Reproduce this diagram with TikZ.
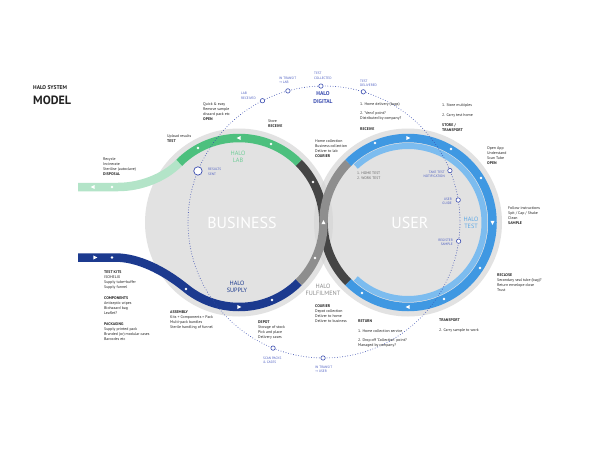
\documentclass[tikz,border=0pt]{standalone}
\usepackage{fontspec}
\setmainfont{PT Sans}
\newfontfamily\arrowfont{DejaVu Sans}
\usetikzlibrary{calc}
\definecolor{diskgray}{HTML}{E2E2E2}
\definecolor{lensgray}{HTML}{D9D9D9}
\definecolor{greenD}{HTML}{4DC07E}
\definecolor{greenL}{HTML}{B3E4C8}
\definecolor{navyb}{HTML}{1C3A8F}
\definecolor{darkg}{HTML}{454545}
\definecolor{midg}{HTML}{8E8E8E}
\definecolor{blueD}{HTML}{3F98E2}
\definecolor{blueL}{HTML}{7CBCEF}
\definecolor{dotblue}{HTML}{3A4CB0}
\definecolor{labelblue}{HTML}{4B5DC2}
\definecolor{txtc}{HTML}{222222}
\newcommand{\tria}[3]{\fill[white,shift={(#1,#2)},rotate=#3] (2.3,0)--(-1.7,2.1)--(-1.7,-2.1)--cycle;}
\begin{document}
\begin{tikzpicture}[x=1pt,y=-1pt,
  band/.style={line width=8.5pt},
  txt/.style={anchor=north west,inner sep=0pt,align=left,text=txtc,font=\fontsize{3.9}{5}\selectfont},
  lbl/.style={anchor=north west,inner sep=0pt,align=left,text=labelblue,font=\fontsize{3.4}{4.7}\selectfont},
  lblr/.style={lbl,anchor=north east,align=right},
  hlabel/.style={inner sep=0pt,align=center,font=\fontsize{6.2}{7}\selectfont},
  marker/.style={fill=white,draw=dotblue,line width=0.6pt},
  wdot/.style={fill=white}]
\useasboundingbox (0,0) rectangle (600,450);
\fill[white] (0,0) rectangle (600,450);
\coordinate (L) at (239,222.5);
\coordinate (R) at (408,222.5);
\coordinate (C) at (324,222);
% disks
\fill[diskgray] (L) circle[radius=94];
\fill[diskgray] (R) circle[radius=94];
\begin{scope}
\clip (L) circle[radius=94];
\fill[lensgray] (R) circle[radius=94];
\end{scope}
% bands
\draw[band,greenL] ($(L)+(-135:84.5)$) .. controls +(-15.5,15.5) and +(22,0) .. (118,187) -- (78,187);
\draw[band,navyb] (78,257.5) -- (115,257.5) .. controls (138,257.5) and (163,270) .. ($(L)+(130:84.5)$) arc[start angle=130,end angle=45,radius=84.5];
\draw[band,darkg] ($(L)+(-45:84.5)$) arc[start angle=-45,end angle=0,radius=84.5] arc[start angle=180,end angle=135,radius=84.5];
\draw[band,midg] ($(L)+(45:84.5)$) arc[start angle=45,end angle=0,radius=84.5] arc[start angle=180,end angle=225,radius=84.5];
\draw[band,blueD] ($(R)+(225:84.5)$) arc[start angle=225,end angle=495,radius=84.5];
\draw[line width=6pt,blueL] ($(R)+(227:76.5)$) arc[start angle=227,end angle=493,radius=76.5];
\draw[band,greenD] ($(L)+(-45:84.5)$) arc[start angle=-45,end angle=-135,radius=84.5];
% arrows
\tria{95}{257.5}{0}
\tria{239}{307}{0}
\tria{93}{187}{180}
\tria{239}{138}{180}
\tria{408}{138}{0}
\tria{492.5}{222.5}{-90}
\tria{408}{307}{180}
\tria{323.5}{222.5}{90}
% white dots
\foreach \p in {(112,257.5),(186,289),(272,300),(112,187),(198,148),(271,144),(313,182),(315,258),(375,143),(451,149),(481,178),(480,268),(444,299),(362,293)}
  \fill[wdot] \p circle[radius=1.3];
% digital dotted circle
\draw[dotblue,line width=0.9pt,line cap=round,dash pattern=on 0pt off 2.6pt] (C) circle[radius=136];
\foreach \a in {-116.9,-105.4,-91.3,-73.2,-22.2,-9.3,8.1,112,90.4}
  \filldraw[marker] ($(C)+(\a:136)$) circle[radius=2.2];
\filldraw[marker,line width=0.7pt] ($(C)+(-157.96:136)$) circle[radius=4.2];
% title
\node[anchor=west,inner sep=0pt,font=\bfseries\fontsize{5.5}{6}\selectfont,text=txtc] (t1) at (33,88) {HALO SYSTEM};
\node[anchor=west,inner sep=0pt,font=\bfseries\fontsize{12}{12}\selectfont,text=txtc] (t2) at (33,100) {MODEL};
% big words
\node[inner sep=0pt,font=\fontsize{16}{16}\selectfont,text=white] (bus) at (242,223) {BUSINESS};
\node[inner sep=0pt,font=\fontsize{16}{16}\selectfont,text=white] (usr) at (410,223) {USER};
% halo labels
\node[hlabel,font=\bfseries\fontsize{5.6}{7.6}\selectfont,text=dotblue] (hdig) at (323,97.5) {HALO\\DIGITAL};
\node[hlabel,text=greenD!80!white] (hlab) at (238,156.5) {HALO\\LAB};
\node[hlabel,text=navyb] (hsup) at (237,286.5) {HALO\\SUPPLY};
\node[hlabel,text=blueD!85!white] (htest) at (471,222.5) {HALO\\TEST};
\node[hlabel,text=black!45] (hful) at (323,289.5) {HALO\\FULFILMENT};
\node[txt,text=black!60,font=\fontsize{3.7}{5}\selectfont] (ht) at (357,171.5) {1. HOME TEST\\2. WORK TEST};
% text blocks
\node[txt] (disp) at (103,157.2) {Recycle\\Incinerate\\Sterilise (autoclave)\\\textbf{DISPOSAL}};
\node[txt] (test) at (167,134.2) {Upload results\\\textbf{TEST}};
\node[txt] (openL) at (203,102.5) {Quick \& easy\\Remove sample\\discard pack etc\\\textbf{OPEN}};
\node[txt] (recv) at (268,119.2) {Store\\\textbf{RECEIVE}};
\node[txt] (courT) at (315,139.2) {Home collection\\Business collection\\Deliver to lab\\\textbf{COURIER}};
\node[txt] (hd1) at (360,102.2) {1. Home delivery (bags)};
\node[txt] (hd2) at (360,111.2) {2. ‘Vend’ point?\\Distributed by company?};
\node[txt] (recv2) at (360,127.2) {\textbf{RECEIVE}};
\node[txt] (st1) at (442,103.2) {1. Store multiples};
\node[txt] (st2) at (442,113.2) {2. Carry test home};
\node[txt] (st3) at (442,123.2) {\textbf{STORE /}\\\textbf{TRANSPORT}};
\node[txt] (openR) at (487,146.2) {Open App\\Understand\\Scan Tube\\\textbf{OPEN}};
\node[txt] (samp) at (508,206.2) {Follow instructions\\Spit / Cap / Shake\\Clean\\\textbf{SAMPLE}};
\node[txt] (recl) at (497,273.2) {\textbf{RECLOSE}\\Secondary seal tube (bag)?\\Return envelope close\\Trust};
\node[txt] (trans) at (439,318.2) {\textbf{TRANSPORT}};
\node[txt] (trans2) at (439,328.2) {2. Carry sample to work};
\node[txt] (ret) at (358,319.2) {\textbf{RETURN}};
\node[txt] (ret1) at (358,329.2) {1. Home collection service};
\node[txt] (ret2) at (358,338.2) {2. Drop off ‘Collection’ point?\\Managed by company?};
\node[txt] (courB) at (315,304.2) {\textbf{COURIER}\\Depot collection\\Deliver to home\\Deliver to business};
\node[txt] (depot) at (258,320.2) {\textbf{DEPOT}\\Storage of stock\\Pick and place\\Delivery cases};
\node[txt] (asm) at (170,310.2) {\textbf{ASSEMBLY}\\Kits + Components = Pack\\Multi-pack bundles\\Sterile handling of funnel};
\node[txt] (kits) at (104,270.2) {\textbf{TEST KITS}\\ISOHELIX\\Supply tube+buffer\\Supply funnel};
\node[txt] (comp) at (104,296.2) {\textbf{COMPONENTS}\\Antiseptic wipes\\Biohazard bag\\Leaflet?};
\node[txt] (pack) at (104,322.2) {\textbf{PACKAGING}\\Supply printed pack\\Branded (or) modular cases\\Barcodes etc};
% digital labels
\node[lbl] (labrec) at (241,92.2) {LAB\\RECEIVED};
\node[lbl] (intl) at (279,76.5) {IN TRANSIT\\{\arrowfont →} LAB};
\node[lbl] (tcol) at (314,71.8) {TEST\\COLLECTED};
\node[lbl] (tdel) at (360,79.5) {TEST\\DELIVERED};
\node[lbl] (rsent) at (208,167.8) {RESULTS\\SENT};
\node[lblr] (notif) at (445,170.5) {TAKE TEST\\NOTIFICATION};
\node[lblr] (guide) at (452,197.5) {USER\\GUIDE};
\node[lblr] (regs) at (453,238.5) {REGISTER\\SAMPLE};
\node[lbl] (scan) at (263,356.5) {SCAN PACKS\\\& CASES};
\node[lbl] (intu) at (315,365.5) {IN TRANSIT\\{\arrowfont →} USER};
\end{tikzpicture}
\end{document}
